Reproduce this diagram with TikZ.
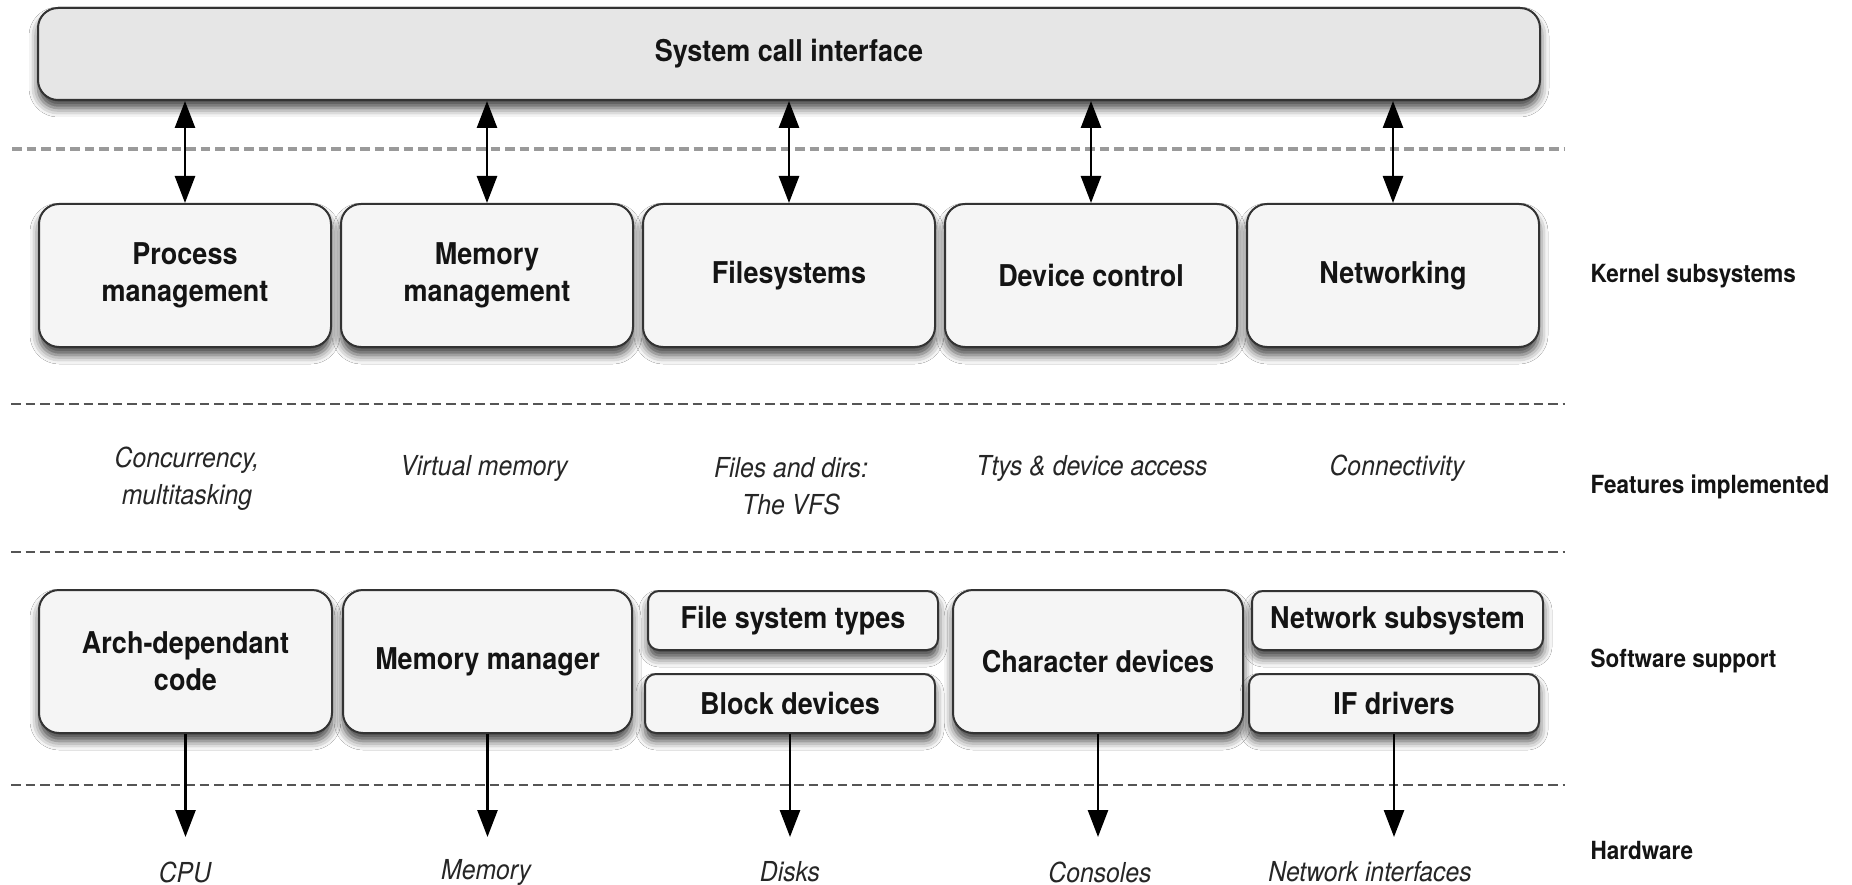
\documentclass[tikz,border=0pt]{standalone}
\usepackage{fontspec}
\setmainfont{TeX Gyre Heros}[FakeStretch=0.9]
\usetikzlibrary{arrows.meta,shadows.blur}
\definecolor{scifill}{HTML}{E6E6E6}
\definecolor{boxfill}{HTML}{F5F5F5}
\definecolor{edge}{HTML}{333333}
\definecolor{sepA}{HTML}{9A9A9A}
\definecolor{sepB}{HTML}{555555}
\begin{document}
\begin{tikzpicture}[x=1pt,y=-1pt,
  box/.style={draw=edge, line width=2pt, fill=boxfill, rounded corners=20pt,
    minimum width=292pt, minimum height=143pt, inner sep=0pt, align=center,
    font=\fontsize{30}{37}\selectfont\bfseries, text=black!92,
    blur shadow={shadow xshift=0pt, shadow yshift=-8pt, shadow blur radius=9pt, shadow opacity=75}},
  smallbox/.style={box, rounded corners=11pt, minimum height=59pt},
  sepone/.style={draw=sepA, line width=3.5pt, dash pattern=on 9.5pt off 5pt},
  septwo/.style={draw=sepB, line width=2.5pt, dash pattern=on 9.5pt off 5pt},
  arr/.style={line width=2.6pt, -{Triangle[length=27pt,width=20pt]}},
  darr/.style={line width=2.6pt, {Triangle[length=27pt,width=20pt]}-{Triangle[length=27pt,width=20pt]}},
  feat/.style={font=\fontsize{27.5}{37}\selectfont\itshape, align=center, text=black!85},
  side/.style={font=\fontsize{25}{30}\selectfont\bfseries, anchor=west, text=black!92}]
\fill[white] (0,0) rectangle (1852,885);
\useasboundingbox (0,0) rectangle (1852,885);

% separators
\draw[sepone] (12,149) -- (1565,149);
\draw[septwo] (11,404) -- (1565,404);
\draw[septwo] (11,552) -- (1565,552);
\draw[septwo] (11,785) -- (1565,785);

% system call interface
\node[box, fill=scifill, minimum width=1502pt, minimum height=92pt] (sci) at (789,54) {System call interface};

% kernel subsystems
\node[box] (pm) at (185,275.5) {Process\\management};
\node[box] (mm) at (487,275.5) {Memory\\management};
\node[box] (fs) at (789,275.5) {Filesystems};
\node[box] (dc) at (1091,275.5) {Device control};
\node[box] (nw) at (1393,275.5) {Networking};

% features
\node[feat] (f1) at (187,478.5) {Concurrency,\\multitasking};
\node[feat] (f2) at (484,468) {Virtual memory};
\node[feat] (f3) at (791,486.5) {Files and dirs:\\The VFS};
\node[feat] (f4) at (1092,468) {Ttys \& device access};
\node[feat] (f5) at (1397,468) {Connectivity};

% software support
\node[box, minimum width=293pt] (arch) at (185.5,661.5) {Arch-dependant\\code};
\node[box, minimum width=289pt] (mgr) at (487.5,661.5) {Memory manager};
\node[smallbox, minimum width=290pt] (fst) at (793,620.5) {File system types};
\node[smallbox, minimum width=290pt] (blk) at (790,703.5) {Block devices};
\node[box, minimum width=290pt] (chr) at (1098,661.5) {Character devices};
\node[smallbox, minimum width=291pt] (nss) at (1397.5,620.5) {Network subsystem};
\node[smallbox, minimum width=290pt] (ifd) at (1394,703.5) {IF drivers};

% hardware labels
\node[feat] (h1) at (185,872) {CPU};
\node[feat] (h2) at (486,872) {Memory};
\node[feat] (h3) at (790,872) {Disks};
\node[feat] (h4) at (1100,872) {Consoles};
\node[feat] (h5) at (1370,872) {Network interfaces};

% side labels
\node[side] (l1) at (1587,276) {Kernel subsystems};
\node[side] (l2) at (1587,487) {Features implemented};
\node[side] (l3) at (1587,661) {Software support};
\node[side] (l4) at (1587,850) {Hardware};

% top arrows
\foreach \n in {pm,mm,fs,dc,nw}
  \draw[darr] (\n.north |- sci.south) -- (\n.north);

% bottom arrows
\coordinate (hw) at (0,837);
\foreach \n in {arch,mgr,blk,chr,ifd}
  \draw[arr] (\n.south) -- (\n.south |- hw);
\end{tikzpicture}
\end{document}
